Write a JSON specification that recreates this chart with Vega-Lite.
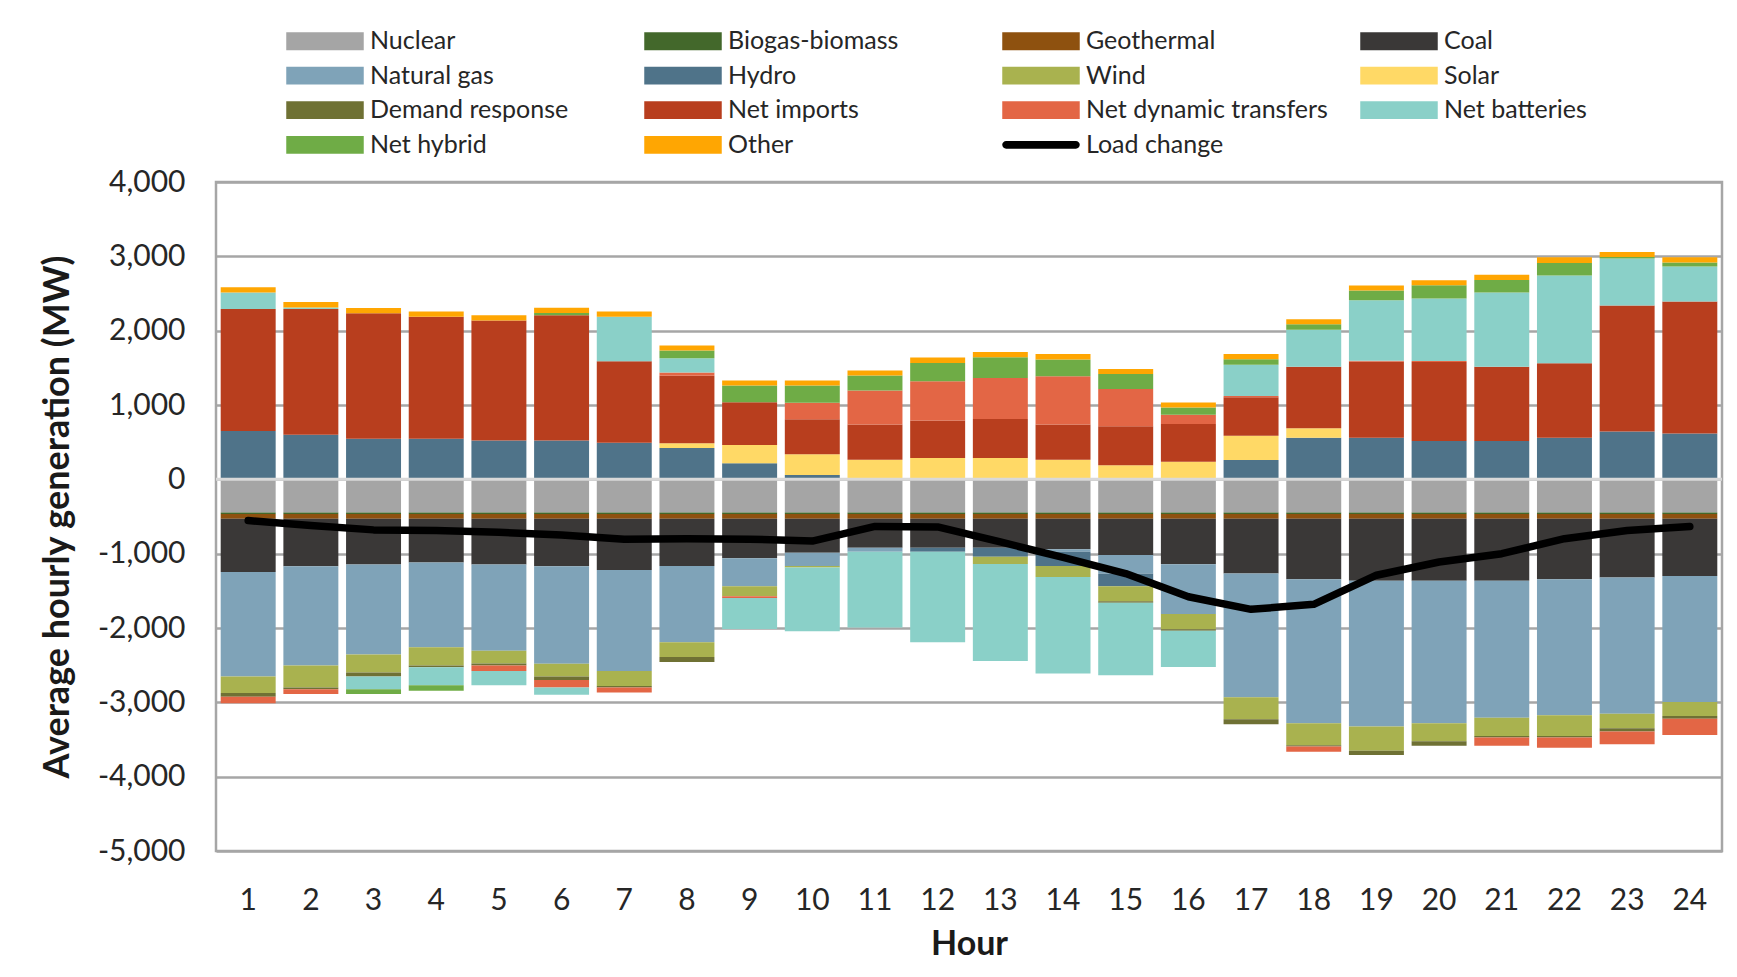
{
"$schema": "https://vega.github.io/schema/vega-lite/v6.json",
"autosize": {"type": "none"},
"width": 1506,
"height": 669,
"padding": {"left": 216, "top": 182, "right": 15, "bottom": 126},
"background": "white",
"config": {"view": {"stroke": "#a6a6a6", "strokeWidth": 2.5}, "font": "Lato"},
"datasets": {
"src": [{"s":"Nuclear","o":1},{"s":"Biogas-biomass","o":2},{"s":"Geothermal","o":3},{"s":"Coal","o":4},{"s":"Natural gas","o":5},{"s":"Hydro","o":6},{"s":"Wind","o":7},{"s":"Solar","o":8},{"s":"Demand response","o":9},{"s":"Net imports","o":10},{"s":"Net dynamic transfers","o":11},{"s":"Net batteries","o":12},{"s":"Net hybrid","o":13},{"s":"Other","o":14}],
"load": [{"h":1,"v":-555},{"h":2,"v":-622},{"h":3,"v":-680},{"h":4,"v":-690},{"h":5,"v":-712},{"h":6,"v":-748},{"h":7,"v":-805},{"h":8,"v":-800},{"h":9,"v":-805},{"h":10,"v":-830},{"h":11,"v":-633},{"h":12,"v":-640},{"h":13,"v":-842},{"h":14,"v":-1049},{"h":15,"v":-1267},{"h":16,"v":-1580},{"h":17,"v":-1749},{"h":18,"v":-1682},{"h":19,"v":-1290},{"h":20,"v":-1112},{"h":21,"v":-1000},{"h":22,"v":-799},{"h":23,"v":-689},{"h":24,"v":-635}],
"gen": [
{"h":1,"s":"Nuclear","v":-445},{"h":1,"s":"Biogas-biomass","v":-20},{"h":1,"s":"Geothermal","v":-65},{"h":1,"s":"Coal","v":-715},{"h":1,"s":"Natural gas","v":-1408},{"h":1,"s":"Hydro","v":650},{"h":1,"s":"Wind","v":-223},{"h":1,"s":"Demand response","v":-49},{"h":1,"s":"Net imports","v":1640},{"h":1,"s":"Net dynamic transfers","v":-88},{"h":1,"s":"Net batteries","v":224},{"h":1,"s":"Other","v":70},
{"h":2,"s":"Nuclear","v":-445},{"h":2,"s":"Biogas-biomass","v":-20},{"h":2,"s":"Geothermal","v":-65},{"h":2,"s":"Coal","v":-639},{"h":2,"s":"Natural gas","v":-1334},{"h":2,"s":"Hydro","v":600},{"h":2,"s":"Wind","v":-297},{"h":2,"s":"Demand response","v":-23},{"h":2,"s":"Net imports","v":1690},{"h":2,"s":"Net dynamic transfers","v":-66},{"h":2,"s":"Net batteries","v":20},{"h":2,"s":"Other","v":75},
{"h":3,"s":"Nuclear","v":-445},{"h":3,"s":"Biogas-biomass","v":-20},{"h":3,"s":"Geothermal","v":-65},{"h":3,"s":"Coal","v":-617},{"h":3,"s":"Natural gas","v":-1209},{"h":3,"s":"Hydro","v":545},{"h":3,"s":"Wind","v":-244},{"h":3,"s":"Demand response","v":-53},{"h":3,"s":"Net imports","v":1690},{"h":3,"s":"Net batteries","v":-170},{"h":3,"s":"Net hybrid","v":-66},{"h":3,"s":"Other","v":70},
{"h":4,"s":"Nuclear","v":-445},{"h":4,"s":"Biogas-biomass","v":-20},{"h":4,"s":"Geothermal","v":-65},{"h":4,"s":"Coal","v":-590},{"h":4,"s":"Natural gas","v":-1139},{"h":4,"s":"Hydro","v":545},{"h":4,"s":"Wind","v":-244},{"h":4,"s":"Demand response","v":-26},{"h":4,"s":"Net imports","v":1643},{"h":4,"s":"Net batteries","v":-240},{"h":4,"s":"Net hybrid","v":-76},{"h":4,"s":"Other","v":70},
{"h":5,"s":"Nuclear","v":-445},{"h":5,"s":"Biogas-biomass","v":-20},{"h":5,"s":"Geothermal","v":-65},{"h":5,"s":"Coal","v":-617},{"h":5,"s":"Natural gas","v":-1160},{"h":5,"s":"Hydro","v":523},{"h":5,"s":"Wind","v":-169},{"h":5,"s":"Demand response","v":-27},{"h":5,"s":"Net imports","v":1615},{"h":5,"s":"Net dynamic transfers","v":-76},{"h":5,"s":"Net batteries","v":-190},{"h":5,"s":"Other","v":70},
{"h":6,"s":"Nuclear","v":-445},{"h":6,"s":"Biogas-biomass","v":-20},{"h":6,"s":"Geothermal","v":-65},{"h":6,"s":"Coal","v":-639},{"h":6,"s":"Natural gas","v":-1311},{"h":6,"s":"Hydro","v":523},{"h":6,"s":"Wind","v":-173},{"h":6,"s":"Demand response","v":-46},{"h":6,"s":"Net imports","v":1686},{"h":6,"s":"Net dynamic transfers","v":-101},{"h":6,"s":"Net batteries","v":-99},{"h":6,"s":"Net hybrid","v":27},{"h":6,"s":"Other","v":73},
{"h":7,"s":"Nuclear","v":-445},{"h":7,"s":"Biogas-biomass","v":-20},{"h":7,"s":"Geothermal","v":-65},{"h":7,"s":"Coal","v":-689},{"h":7,"s":"Natural gas","v":-1360},{"h":7,"s":"Hydro","v":491},{"h":7,"s":"Wind","v":-200},{"h":7,"s":"Demand response","v":-21},{"h":7,"s":"Net imports","v":1097},{"h":7,"s":"Net dynamic transfers","v":-67},{"h":7,"s":"Net batteries","v":600},{"h":7,"s":"Other","v":71},
{"h":8,"s":"Nuclear","v":-445},{"h":8,"s":"Biogas-biomass","v":-20},{"h":8,"s":"Geothermal","v":-65},{"h":8,"s":"Coal","v":-635},{"h":8,"s":"Natural gas","v":-1026},{"h":8,"s":"Hydro","v":420},{"h":8,"s":"Wind","v":-199},{"h":8,"s":"Solar","v":67},{"h":8,"s":"Demand response","v":-67},{"h":8,"s":"Net imports","v":905},{"h":8,"s":"Net dynamic transfers","v":45},{"h":8,"s":"Net batteries","v":193},{"h":8,"s":"Net hybrid","v":103},{"h":8,"s":"Other","v":67},
{"h":9,"s":"Nuclear","v":-445},{"h":9,"s":"Biogas-biomass","v":-20},{"h":9,"s":"Geothermal","v":-65},{"h":9,"s":"Coal","v":-532},{"h":9,"s":"Natural gas","v":-378},{"h":9,"s":"Hydro","v":215},{"h":9,"s":"Wind","v":-132},{"h":9,"s":"Solar","v":248},{"h":9,"s":"Net imports","v":573},{"h":9,"s":"Net dynamic transfers","v":-25},{"h":9,"s":"Net batteries","v":-418},{"h":9,"s":"Net hybrid","v":226},{"h":9,"s":"Other","v":68},
{"h":10,"s":"Nuclear","v":-445},{"h":10,"s":"Biogas-biomass","v":-20},{"h":10,"s":"Geothermal","v":-65},{"h":10,"s":"Coal","v":-458},{"h":10,"s":"Natural gas","v":-177},{"h":10,"s":"Hydro","v":58},{"h":10,"s":"Wind","v":-22},{"h":10,"s":"Solar","v":278},{"h":10,"s":"Net imports","v":471},{"h":10,"s":"Net dynamic transfers","v":223},{"h":10,"s":"Net batteries","v":-858},{"h":10,"s":"Net hybrid","v":232},{"h":10,"s":"Other","v":68},
{"h":11,"s":"Nuclear","v":-445},{"h":11,"s":"Biogas-biomass","v":-20},{"h":11,"s":"Geothermal","v":-65},{"h":11,"s":"Coal","v":-390},{"h":11,"s":"Natural gas","v":-55},{"h":11,"s":"Solar","v":265},{"h":11,"s":"Net imports","v":471},{"h":11,"s":"Net dynamic transfers","v":458},{"h":11,"s":"Net batteries","v":-1017},{"h":11,"s":"Net hybrid","v":202},{"h":11,"s":"Other","v":67},
{"h":12,"s":"Nuclear","v":-445},{"h":12,"s":"Biogas-biomass","v":-20},{"h":12,"s":"Geothermal","v":-65},{"h":12,"s":"Coal","v":-390},{"h":12,"s":"Hydro","v":-55},{"h":12,"s":"Solar","v":287},{"h":12,"s":"Net imports","v":503},{"h":12,"s":"Net dynamic transfers","v":529},{"h":12,"s":"Net batteries","v":-1216},{"h":12,"s":"Net hybrid","v":246},{"h":12,"s":"Other","v":73},
{"h":13,"s":"Nuclear","v":-445},{"h":13,"s":"Biogas-biomass","v":-20},{"h":13,"s":"Geothermal","v":-65},{"h":13,"s":"Coal","v":-390},{"h":13,"s":"Hydro","v":-121},{"h":13,"s":"Wind","v":-97},{"h":13,"s":"Solar","v":287},{"h":13,"s":"Net imports","v":525},{"h":13,"s":"Net dynamic transfers","v":552},{"h":13,"s":"Net batteries","v":-1305},{"h":13,"s":"Net hybrid","v":278},{"h":13,"s":"Other","v":71},
{"h":14,"s":"Nuclear","v":-445},{"h":14,"s":"Biogas-biomass","v":-20},{"h":14,"s":"Geothermal","v":-65},{"h":14,"s":"Coal","v":-412},{"h":14,"s":"Natural gas","v":-33},{"h":14,"s":"Hydro","v":-190},{"h":14,"s":"Wind","v":-150},{"h":14,"s":"Solar","v":265},{"h":14,"s":"Net imports","v":471},{"h":14,"s":"Net dynamic transfers","v":650},{"h":14,"s":"Net batteries","v":-1297},{"h":14,"s":"Net hybrid","v":225},{"h":14,"s":"Other","v":76},
{"h":15,"s":"Nuclear","v":-445},{"h":15,"s":"Biogas-biomass","v":-20},{"h":15,"s":"Geothermal","v":-65},{"h":15,"s":"Coal","v":-488},{"h":15,"s":"Natural gas","v":-253},{"h":15,"s":"Hydro","v":-169},{"h":15,"s":"Wind","v":-199},{"h":15,"s":"Solar","v":188},{"h":15,"s":"Demand response","v":-21},{"h":15,"s":"Net imports","v":525},{"h":15,"s":"Net dynamic transfers","v":502},{"h":15,"s":"Net batteries","v":-974},{"h":15,"s":"Net hybrid","v":202},{"h":15,"s":"Other","v":68},
{"h":16,"s":"Nuclear","v":-445},{"h":16,"s":"Biogas-biomass","v":-20},{"h":16,"s":"Geothermal","v":-65},{"h":16,"s":"Coal","v":-613},{"h":16,"s":"Natural gas","v":-668},{"h":16,"s":"Wind","v":-205},{"h":16,"s":"Solar","v":238},{"h":16,"s":"Demand response","v":-22},{"h":16,"s":"Net imports","v":506},{"h":16,"s":"Net dynamic transfers","v":126},{"h":16,"s":"Net batteries","v":-486},{"h":16,"s":"Net hybrid","v":95},{"h":16,"s":"Other","v":67},
{"h":17,"s":"Nuclear","v":-445},{"h":17,"s":"Biogas-biomass","v":-20},{"h":17,"s":"Geothermal","v":-65},{"h":17,"s":"Coal","v":-737},{"h":17,"s":"Natural gas","v":-1663},{"h":17,"s":"Hydro","v":260},{"h":17,"s":"Wind","v":-299},{"h":17,"s":"Solar","v":328},{"h":17,"s":"Demand response","v":-66},{"h":17,"s":"Net imports","v":516},{"h":17,"s":"Net dynamic transfers","v":18},{"h":17,"s":"Net batteries","v":421},{"h":17,"s":"Net hybrid","v":72},{"h":17,"s":"Other","v":72},
{"h":18,"s":"Nuclear","v":-445},{"h":18,"s":"Biogas-biomass","v":-20},{"h":18,"s":"Geothermal","v":-65},{"h":18,"s":"Coal","v":-814},{"h":18,"s":"Natural gas","v":-1938},{"h":18,"s":"Hydro","v":561},{"h":18,"s":"Wind","v":-294},{"h":18,"s":"Solar","v":126},{"h":18,"s":"Demand response","v":-18},{"h":18,"s":"Net imports","v":826},{"h":18,"s":"Net dynamic transfers","v":-72},{"h":18,"s":"Net batteries","v":498},{"h":18,"s":"Net hybrid","v":76},{"h":18,"s":"Other","v":67},
{"h":19,"s":"Nuclear","v":-445},{"h":19,"s":"Biogas-biomass","v":-20},{"h":19,"s":"Geothermal","v":-65},{"h":19,"s":"Coal","v":-836},{"h":19,"s":"Natural gas","v":-1960},{"h":19,"s":"Hydro","v":561},{"h":19,"s":"Wind","v":-326},{"h":19,"s":"Demand response","v":-58},{"h":19,"s":"Net imports","v":1024},{"h":19,"s":"Net dynamic transfers","v":10},{"h":19,"s":"Net batteries","v":814},{"h":19,"s":"Net hybrid","v":130},{"h":19,"s":"Other","v":67},
{"h":20,"s":"Nuclear","v":-445},{"h":20,"s":"Biogas-biomass","v":-20},{"h":20,"s":"Geothermal","v":-65},{"h":20,"s":"Coal","v":-836},{"h":20,"s":"Natural gas","v":-1916},{"h":20,"s":"Hydro","v":516},{"h":20,"s":"Wind","v":-241},{"h":20,"s":"Demand response","v":-62},{"h":20,"s":"Net imports","v":1063},{"h":20,"s":"Net dynamic transfers","v":14},{"h":20,"s":"Net batteries","v":839},{"h":20,"s":"Net hybrid","v":179},{"h":20,"s":"Other","v":67},
{"h":21,"s":"Nuclear","v":-445},{"h":21,"s":"Biogas-biomass","v":-20},{"h":21,"s":"Geothermal","v":-65},{"h":21,"s":"Coal","v":-836},{"h":21,"s":"Natural gas","v":-1840},{"h":21,"s":"Hydro","v":516},{"h":21,"s":"Wind","v":-246},{"h":21,"s":"Demand response","v":-22},{"h":21,"s":"Net imports","v":997},{"h":21,"s":"Net dynamic transfers","v":-111},{"h":21,"s":"Net batteries","v":999},{"h":21,"s":"Net hybrid","v":171},{"h":21,"s":"Other","v":68},
{"h":22,"s":"Nuclear","v":-445},{"h":22,"s":"Biogas-biomass","v":-20},{"h":22,"s":"Geothermal","v":-65},{"h":22,"s":"Coal","v":-814},{"h":22,"s":"Natural gas","v":-1831},{"h":22,"s":"Hydro","v":561},{"h":22,"s":"Wind","v":-277},{"h":22,"s":"Demand response","v":-22},{"h":22,"s":"Net imports","v":1002},{"h":22,"s":"Net dynamic transfers","v":-138},{"h":22,"s":"Net batteries","v":1178},{"h":22,"s":"Net hybrid","v":170},{"h":22,"s":"Other","v":77},
{"h":23,"s":"Nuclear","v":-445},{"h":23,"s":"Biogas-biomass","v":-20},{"h":23,"s":"Geothermal","v":-65},{"h":23,"s":"Coal","v":-791},{"h":23,"s":"Natural gas","v":-1832},{"h":23,"s":"Hydro","v":642},{"h":23,"s":"Wind","v":-196},{"h":23,"s":"Demand response","v":-45},{"h":23,"s":"Net imports","v":1696},{"h":23,"s":"Net dynamic transfers","v":-169},{"h":23,"s":"Net batteries","v":632},{"h":23,"s":"Net hybrid","v":22},{"h":23,"s":"Other","v":67},
{"h":24,"s":"Nuclear","v":-445},{"h":24,"s":"Biogas-biomass","v":-20},{"h":24,"s":"Geothermal","v":-65},{"h":24,"s":"Coal","v":-769},{"h":24,"s":"Natural gas","v":-1698},{"h":24,"s":"Hydro","v":615},{"h":24,"s":"Wind","v":-187},{"h":24,"s":"Demand response","v":-36},{"h":24,"s":"Net imports","v":1776},{"h":24,"s":"Net dynamic transfers","v":-218},{"h":24,"s":"Net batteries","v":471},{"h":24,"s":"Net hybrid","v":54},{"h":24,"s":"Other","v":72}
]
},
"layer": [
{
"data": {"name": "gen"},
"transform": [{"lookup": "s", "from": {"data": {"name": "src"}, "key": "s", "fields": ["o"]}}],
"mark": {"type": "bar"},
"encoding": {
"x": {"field": "h", "type": "ordinal", "scale": {"paddingInner": 0.123, "paddingOuter": 0.075},
"axis": {"title": "Hour", "labelAngle": 0, "domain": false, "ticks": false, "tickSize": 0, "grid": false, "labelFont": "Lato", "labelFontSize": 30, "labelColor": "#262626", "labelBaseline": "alphabetic", "labelPadding": 58, "titleFont": "Lato", "titleFontSize": 34, "titleFontWeight": "bold", "titleColor": "#1a1a1a", "titlePadding": 12}},
"y": {"field": "v", "type": "quantitative", "stack": "zero", "scale": {"domain": [-5000, 4000], "nice": false, "zero": false},
"axis": {"title": "Average hourly generation (MW)", "values": [-5000,-4000,-3000,-2000,-1000,0,1000,2000,3000,4000], "format": ",d", "labelExpr": "replace(datum.label, '\u2212', '-')", "domain": false, "ticks": false, "tickSize": 0, "gridColor": "#a6a6a6", "gridWidth": 2.5, "labelFont": "Lato", "labelFontSize": 30, "labelColor": "#262626", "labelPadding": 31, "titleFont": "Lato", "titleFontSize": 36, "titleFontWeight": "bold", "titleColor": "#1a1a1a", "titlePadding": 21}},
"color": {"field": "s", "type": "nominal",
"scale": {"domain": ["Nuclear","Biogas-biomass","Geothermal","Coal","Natural gas","Hydro","Wind","Solar","Demand response","Net imports","Net dynamic transfers","Net batteries","Net hybrid","Other","Load change"],
"range": ["#a5a5a5","#43682b","#8e510f","#3a3837","#7fa3b8","#4f7389","#a9b24f","#ffd966","#6f7134","#b83e1e","#e36645","#8ad0c8","#6fac46","#ffa602","#000000"]},
"legend": {"title": null, "orient": "none", "legendX": 70, "legendY": -153.5, "columns": 4, "direction": "horizontal", "gridAlign": "all", "columnPadding": 32, "rowPadding": 8.6, "clipHeight": 25, "symbolSize": 6006, "symbolType": "M-1,-0.23H1V0.23H-1Z", "symbolStrokeWidth": 0, "labelFont": "Lato", "labelFontSize": 25, "labelColor": "#262626", "labelOffset": 6, "labelLimit": 400, "padding": 0,
"encode": {"symbols": {"update": {"shape": [{"test": "datum.label === 'Load change'", "value": "M-0.9,-0.1H0.9A0.1,0.1 0 0 1 0.9,0.1H-0.9A0.1,0.1 0 0 1 -0.9,-0.1Z"}, {"value": "M-1,-0.23H1V0.23H-1Z"}], "fill": {"scale": "color", "field": "value"}, "stroke": {"value": "transparent"}, "strokeWidth": {"value": 0}, "opacity": {"value": 1}}}}}},
"order": {"field": "o", "type": "quantitative"}
}
},
{
"data": {"values": [{}]},
"mark": {"type": "rule", "color": "#d9d9d9", "strokeWidth": 3},
"encoding": {"y": {"datum": 0}}
},
{
"data": {"name": "load"},
"mark": {"type": "line", "strokeWidth": 7.5, "strokeCap": "round", "strokeJoin": "round"},
"encoding": {"x": {"field": "h", "type": "ordinal"}, "y": {"field": "v", "type": "quantitative"}, "color": {"datum": "Load change"}}
}
]
}
